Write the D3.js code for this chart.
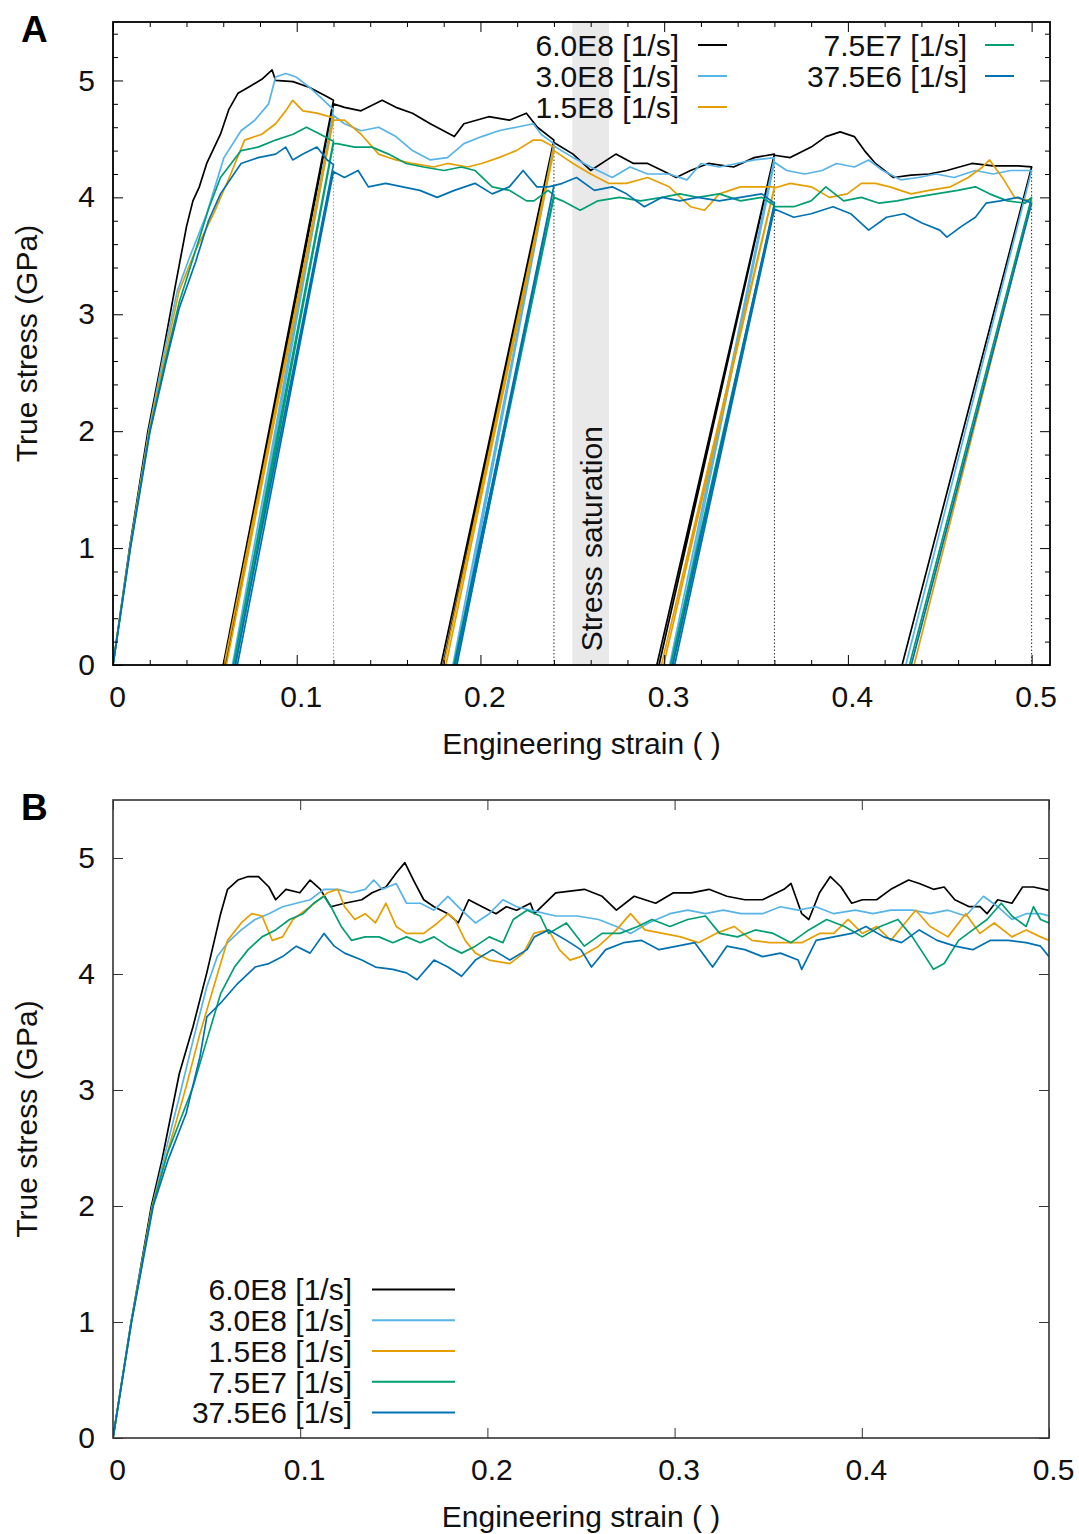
<!DOCTYPE html>
<html><head><meta charset="utf-8">
<script src="https://cdn.jsdelivr.net/npm/d3@7"></script>
<style>body{margin:0;background:#fff} svg{display:block}</style>
</head><body>
<svg id="c" width="1079" height="1534"></svg>
<script>
// ---------- data ----------
const seriesNames = ["6.0E8 [1/s]","3.0E8 [1/s]","1.5E8 [1/s]","7.5E7 [1/s]","37.5E6 [1/s]"];
const seriesColors = ["#000000","#56b4e9","#e69f00","#009e73","#0072b2"];
const xTickValues = [0,0.1,0.2,0.3,0.4,0.5];
const xTickLabels = ["0","0.1","0.2","0.3","0.4","0.5"];
const yTickValues = [0,1,2,3,4,5];
const yTickLabels = ["0","1","2","3","4","5"];
const unloadStrainsA = [0.12,0.24,0.36,0.5];
const saturationBand = [0.25,0.27];
const xTitle = "Engineering strain ( )";
const yTitle = "True stress (GPa)";
const bandLabel = "Stress saturation";

// Panel A: loading / unloading / reloading  [strain, stress]
const a600 = [[0,0],[0.009,1.0],[0.019,2.0],[0.027,2.65],[0.034,3.25],[0.040,3.75],[0.0435,3.97],[0.047,4.09],[0.051,4.29],[0.0585,4.54],[0.063,4.75],[0.068,4.89],[0.0735,4.94],[0.081,5.01],[0.0866,5.09],[0.0885,5.00],[0.098,4.99],[0.107,4.94],[0.1166,4.86],[0.12,4.83],
 [0.060,0],[0.0612,0],[0.12,4.80],[0.126,4.77],[0.135,4.74],[0.1465,4.83],[0.154,4.77],[0.163,4.72],[0.1727,4.63],[0.1858,4.52],[0.191,4.63],[0.2045,4.69],[0.2157,4.66],[0.225,4.72],[0.231,4.60],[0.24,4.49],
 [0.1785,0],[0.1797,0],[0.24,4.47],[0.2504,4.37],[0.260,4.23],[0.2737,4.37],[0.2833,4.29],[0.291,4.29],[0.2989,4.23],[0.3066,4.17],[0.3143,4.23],[0.324,4.29],[0.3378,4.26],[0.349,4.34],[0.36,4.37],
 [0.296,0],[0.2972,0],[0.36,4.36],[0.3686,4.34],[0.380,4.43],[0.388,4.52],[0.3958,4.56],[0.4035,4.52],[0.409,4.40],[0.415,4.29],[0.4248,4.17],[0.4344,4.19],[0.4442,4.20],[0.4539,4.23],[0.4675,4.29],[0.479,4.27],[0.4926,4.27],[0.5,4.26],
 [0.4295,0]];
const a300 = [[0,0],[0.0092,1.0],[0.0195,2.0],[0.0275,2.65],[0.035,3.2],[0.042,3.5],[0.051,3.86],[0.0604,4.34],[0.0697,4.57],[0.0772,4.66],[0.0847,4.80],[0.0885,5.03],[0.094,5.06],[0.0996,5.03],[0.107,4.94],[0.1127,4.86],[0.12,4.75],
 [0.065,0],[0.0662,0],[0.12,4.70],[0.126,4.63],[0.135,4.57],[0.1446,4.60],[0.154,4.52],[0.163,4.40],[0.1727,4.32],[0.182,4.34],[0.191,4.46],[0.2007,4.52],[0.210,4.57],[0.2195,4.60],[0.2288,4.63],[0.233,4.54],[0.24,4.46],
 [0.185,0],[0.1862,0],[0.24,4.44],[0.2504,4.34],[0.260,4.26],[0.2717,4.17],[0.2814,4.26],[0.291,4.20],[0.3027,4.20],[0.3124,4.15],[0.320,4.29],[0.330,4.26],[0.3395,4.29],[0.349,4.32],[0.36,4.34],
 [0.303,0],[0.3042,0],[0.36,4.30],[0.3667,4.23],[0.3764,4.20],[0.386,4.23],[0.3938,4.29],[0.4035,4.26],[0.4113,4.32],[0.419,4.23],[0.4287,4.15],[0.4384,4.17],[0.448,4.20],[0.4577,4.17],[0.4694,4.23],[0.479,4.20],[0.4887,4.23],[0.5,4.23],
 [0.4315,0]];
const a150 = [[0,0],[0.0093,1.0],[0.0197,2.0],[0.028,2.62],[0.036,3.2],[0.045,3.55],[0.0548,3.86],[0.0641,4.20],[0.0716,4.49],[0.081,4.54],[0.0885,4.63],[0.094,4.74],[0.0978,4.83],[0.1034,4.74],[0.111,4.72],[0.12,4.68],
 [0.0605,0],[0.0617,0],[0.12,4.66],[0.126,4.66],[0.135,4.54],[0.1446,4.37],[0.154,4.32],[0.163,4.29],[0.1746,4.26],[0.182,4.29],[0.193,4.26],[0.2007,4.29],[0.210,4.34],[0.2195,4.40],[0.2288,4.49],[0.233,4.49],[0.24,4.43],
 [0.180,0],[0.1812,0],[0.24,4.40],[0.2504,4.29],[0.260,4.20],[0.2697,4.12],[0.2795,4.12],[0.291,4.17],[0.3027,4.09],[0.3143,3.92],[0.322,3.89],[0.330,4.03],[0.3415,4.09],[0.349,4.09],[0.36,4.09],
 [0.2985,0],[0.2997,0],[0.36,4.08],[0.3686,4.12],[0.380,4.09],[0.390,4.00],[0.3996,4.03],[0.4073,4.12],[0.415,4.12],[0.4228,4.09],[0.4344,4.03],[0.4442,4.06],[0.4558,4.09],[0.4655,4.17],[0.4733,4.26],[0.4771,4.32],[0.4849,4.15],[0.4907,4.00],[0.5,3.97],
 [0.436,0]];
const a75 = [[0,0],[0.0094,1.0],[0.020,2.0],[0.0285,2.6],[0.036,3.1],[0.045,3.55],[0.052,3.9],[0.0585,4.17],[0.0697,4.40],[0.079,4.43],[0.0885,4.49],[0.098,4.54],[0.1053,4.60],[0.1128,4.54],[0.12,4.48],
 [0.0655,0],[0.0667,0],[0.12,4.46],[0.122,4.46],[0.1315,4.43],[0.1409,4.43],[0.150,4.37],[0.1596,4.29],[0.169,4.26],[0.1802,4.23],[0.1895,4.26],[0.197,4.23],[0.2064,4.09],[0.2157,4.06],[0.2251,3.97],[0.2291,3.97],[0.2368,4.06],[0.24,4.02],
 [0.1855,0],[0.1867,0],[0.24,4.00],[0.2446,3.97],[0.2543,3.89],[0.264,3.97],[0.2756,4.00],[0.2872,3.97],[0.2989,4.00],[0.3085,4.03],[0.3183,4.00],[0.330,4.03],[0.3415,3.97],[0.3531,4.00],[0.36,3.93],
 [0.3035,0],[0.3047,0],[0.36,3.92],[0.3705,3.92],[0.380,3.97],[0.388,4.09],[0.3977,3.97],[0.4073,4.00],[0.417,3.95],[0.4267,3.97],[0.4364,4.00],[0.448,4.03],[0.4597,4.06],[0.4694,4.09],[0.4771,4.03],[0.4868,3.97],[0.4965,3.95],[0.5,4.00],
 [0.4335,0]];
const a375 = [[0,0],[0.0095,1.0],[0.0202,2.0],[0.029,2.6],[0.036,3.05],[0.045,3.45],[0.052,3.8],[0.0585,4.03],[0.0697,4.29],[0.079,4.34],[0.0885,4.37],[0.094,4.43],[0.0978,4.32],[0.1034,4.37],[0.111,4.43],[0.1166,4.32],[0.12,4.28],
 [0.0665,0],[0.0677,0],[0.12,4.22],[0.126,4.17],[0.1334,4.23],[0.139,4.09],[0.1484,4.12],[0.1577,4.09],[0.167,4.06],[0.1764,4.00],[0.1858,4.06],[0.197,4.12],[0.2064,4.03],[0.2157,4.09],[0.2232,4.23],[0.2307,4.09],[0.2368,4.09],[0.24,4.10],
 [0.186,0],[0.1872,0],[0.24,4.10],[0.2446,4.12],[0.2523,4.17],[0.262,4.06],[0.2717,4.09],[0.2795,4.03],[0.2892,3.92],[0.2989,4.00],[0.3085,3.97],[0.3183,4.00],[0.330,3.97],[0.3415,4.00],[0.3531,4.03],[0.36,3.95],
 [0.3045,0],[0.3057,0],[0.36,3.90],[0.3705,3.83],[0.380,3.86],[0.3919,3.92],[0.4015,3.86],[0.4113,3.72],[0.421,3.83],[0.4306,3.86],[0.4403,3.78],[0.450,3.72],[0.4539,3.66],[0.4616,3.75],[0.4694,3.83],[0.4752,3.95],[0.483,3.97],[0.4926,4.00],[0.5,3.95],
 [0.4345,0]];

// Panel B: monotonic loading
const b600 = [[0,0],[0.0097,1.0],[0.0205,2.0],[0.0262,2.40],[0.0354,3.14],[0.0428,3.55],[0.0501,4.01],[0.0575,4.52],[0.0612,4.73],[0.0667,4.81],[0.0722,4.84],[0.0777,4.84],[0.0833,4.75],[0.0869,4.64],[0.0924,4.73],[0.0998,4.70],[0.1053,4.81],[0.1108,4.73],[0.1164,4.58],[0.1237,4.61],[0.1329,4.64],[0.1384,4.70],[0.1458,4.75],[0.1513,4.87],[0.1559,4.96],[0.1605,4.81],[0.166,4.64],[0.1715,4.58],[0.1789,4.52],[0.1844,4.44],[0.19,4.64],[0.1972,4.58],[0.2046,4.52],[0.2101,4.58],[0.2156,4.55],[0.223,4.61],[0.2251,4.52],[0.2365,4.70],[0.2518,4.73],[0.2613,4.67],[0.2689,4.55],[0.2784,4.67],[0.2899,4.61],[0.2994,4.70],[0.3089,4.70],[0.3184,4.73],[0.3279,4.67],[0.3375,4.64],[0.347,4.64],[0.3584,4.73],[0.3622,4.78],[0.3679,4.52],[0.3717,4.47],[0.3774,4.70],[0.3832,4.84],[0.3889,4.75],[0.3946,4.61],[0.4003,4.64],[0.4079,4.64],[0.4155,4.73],[0.425,4.81],[0.4307,4.78],[0.4383,4.73],[0.444,4.75],[0.4497,4.64],[0.4574,4.58],[0.4631,4.58],[0.4669,4.52],[0.4726,4.64],[0.4802,4.61],[0.4859,4.75],[0.4917,4.75],[0.5,4.72]];
const b300 = [[0,0],[0.0097,1.0],[0.021,2.0],[0.027,2.4],[0.0354,2.94],[0.0428,3.43],[0.0501,3.89],[0.0557,4.15],[0.0612,4.27],[0.0685,4.38],[0.0759,4.47],[0.0833,4.52],[0.0906,4.58],[0.0979,4.61],[0.1053,4.64],[0.1127,4.73],[0.12,4.73],[0.1274,4.70],[0.1347,4.73],[0.1393,4.81],[0.1439,4.73],[0.1513,4.78],[0.1568,4.61],[0.1642,4.61],[0.1715,4.55],[0.1789,4.67],[0.1862,4.55],[0.1936,4.44],[0.201,4.52],[0.2083,4.64],[0.2157,4.58],[0.223,4.55],[0.2365,4.50],[0.248,4.50],[0.2594,4.47],[0.2689,4.41],[0.2765,4.35],[0.286,4.44],[0.2975,4.52],[0.307,4.55],[0.3165,4.52],[0.326,4.55],[0.3355,4.52],[0.347,4.52],[0.3565,4.58],[0.366,4.55],[0.3755,4.58],[0.385,4.52],[0.3965,4.55],[0.406,4.52],[0.4155,4.55],[0.427,4.55],[0.4365,4.52],[0.446,4.55],[0.4555,4.50],[0.465,4.67],[0.4726,4.58],[0.4802,4.47],[0.4878,4.52],[0.4955,4.52],[0.5,4.50]];
const b150 = [[0,0],[0.0098,1.0],[0.021,2.0],[0.028,2.4],[0.0391,3.03],[0.0465,3.49],[0.0538,3.89],[0.0612,4.29],[0.0685,4.44],[0.0741,4.52],[0.0796,4.50],[0.0851,4.29],[0.0906,4.32],[0.0961,4.47],[0.1053,4.58],[0.1145,4.70],[0.12,4.73],[0.1237,4.58],[0.1292,4.47],[0.1347,4.52],[0.1402,4.44],[0.1458,4.61],[0.1513,4.41],[0.1568,4.35],[0.166,4.35],[0.1734,4.44],[0.1789,4.52],[0.1826,4.47],[0.1881,4.29],[0.1936,4.18],[0.201,4.12],[0.212,4.09],[0.2193,4.18],[0.2248,4.35],[0.2327,4.38],[0.2384,4.21],[0.2441,4.12],[0.2499,4.15],[0.2594,4.24],[0.2689,4.38],[0.2765,4.52],[0.2841,4.38],[0.2937,4.35],[0.3032,4.32],[0.3127,4.27],[0.3222,4.35],[0.3318,4.41],[0.3413,4.29],[0.3508,4.27],[0.3603,4.27],[0.3679,4.27],[0.3774,4.35],[0.385,4.35],[0.3927,4.47],[0.4003,4.35],[0.4079,4.41],[0.4155,4.29],[0.4231,4.44],[0.4288,4.55],[0.4365,4.41],[0.446,4.32],[0.4555,4.52],[0.4631,4.35],[0.4707,4.44],[0.4802,4.32],[0.4878,4.38],[0.4955,4.32],[0.5,4.29]];
const b75 = [[0,0],[0.0098,1.0],[0.0212,2.0],[0.029,2.45],[0.0428,3.03],[0.0501,3.43],[0.0575,3.83],[0.0649,4.06],[0.0722,4.21],[0.0796,4.32],[0.0869,4.38],[0.0943,4.47],[0.1016,4.52],[0.1072,4.61],[0.1127,4.67],[0.1164,4.58],[0.1219,4.41],[0.1274,4.29],[0.1347,4.32],[0.1421,4.32],[0.1495,4.27],[0.1568,4.32],[0.1642,4.27],[0.1715,4.32],[0.1789,4.24],[0.1862,4.18],[0.1936,4.24],[0.201,4.32],[0.2083,4.27],[0.2138,4.47],[0.2212,4.55],[0.2282,4.50],[0.2327,4.35],[0.2422,4.44],[0.2518,4.24],[0.2613,4.35],[0.2708,4.35],[0.2803,4.41],[0.2879,4.47],[0.2975,4.41],[0.307,4.47],[0.3165,4.50],[0.3241,4.35],[0.3336,4.32],[0.3432,4.38],[0.3527,4.35],[0.3622,4.27],[0.3717,4.38],[0.3812,4.47],[0.3908,4.41],[0.4003,4.32],[0.4098,4.41],[0.4193,4.47],[0.427,4.32],[0.4327,4.18],[0.4383,4.04],[0.444,4.09],[0.4517,4.29],[0.4593,4.38],[0.4669,4.47],[0.4745,4.61],[0.4802,4.50],[0.4878,4.41],[0.4917,4.58],[0.4955,4.47],[0.5,4.44]];
const b375 = [[0,0],[0.0099,1.0],[0.0215,2.0],[0.0295,2.4],[0.0391,2.80],[0.0465,3.29],[0.0501,3.63],[0.0575,3.75],[0.0667,3.92],[0.0759,4.06],[0.0833,4.09],[0.0906,4.15],[0.0979,4.24],[0.1053,4.18],[0.1127,4.35],[0.1182,4.24],[0.1237,4.18],[0.1329,4.12],[0.1402,4.06],[0.1495,4.04],[0.1568,4.01],[0.1624,3.95],[0.1715,4.12],[0.1789,4.06],[0.1862,3.98],[0.1936,4.12],[0.2028,4.21],[0.212,4.12],[0.2212,4.21],[0.2251,4.32],[0.2327,4.38],[0.2422,4.29],[0.2499,4.21],[0.2556,4.06],[0.2632,4.21],[0.2727,4.27],[0.2822,4.29],[0.2917,4.21],[0.3013,4.24],[0.3108,4.27],[0.3203,4.06],[0.3279,4.24],[0.3375,4.21],[0.347,4.15],[0.3565,4.18],[0.366,4.12],[0.3679,4.04],[0.3756,4.29],[0.385,4.32],[0.3946,4.35],[0.4022,4.41],[0.4117,4.32],[0.4212,4.27],[0.4307,4.38],[0.4402,4.29],[0.4498,4.24],[0.4593,4.21],[0.4688,4.29],[0.4783,4.29],[0.4878,4.27],[0.4955,4.24],[0.5,4.15]];

const seriesA = [a600,a300,a150,a75,a375];
const seriesB = [b600,b300,b150,b75,b375];

// ---------- drawing ----------
const FONT = "'Liberation Sans', Arial, Helvetica, sans-serif";
const FS = 30;
const svg = d3.select("#c");

function panel(opt){
  const g = svg.append("g");
  const x = d3.scaleLinear().domain(opt.xDomain).range([opt.left, opt.right]);
  const y = d3.scaleLinear().domain([0,5.5]).range([opt.bottom, opt.top]);
  const clipId = "clip" + opt.id;
  svg.append("clipPath").attr("id", clipId).append("rect")
    .attr("x", opt.left).attr("y", opt.top).attr("width", opt.right-opt.left).attr("height", opt.bottom-opt.top);

  const plot = g.append("g").attr("clip-path", `url(#${clipId})`);

  if (opt.band){
    plot.append("rect").attr("x", x(opt.band[0])).attr("width", x(opt.band[1])-x(opt.band[0]))
      .attr("y", y(5.5)).attr("height", y(0)-y(5.5)).attr("fill", "#e9e9e9");
    g.append("text").attr("transform", `translate(${(x(opt.band[0])+x(opt.band[1]))/2+11},${y(1.08)}) rotate(-90)`)
      .attr("text-anchor","middle").attr("font-family", FONT).attr("font-size", FS).attr("fill","#111").text(bandLabel);
  }
  if (opt.unloads){
    opt.unloads.forEach((u,i) => {
      const tops = opt.series.map(s => d3.max(s.filter(p => Math.abs(p[0]-u) < 1e-9), p => p[1]) || 0);
      plot.append("line").attr("x1", x(u)).attr("x2", x(u)).attr("y1", y(0)).attr("y2", y(d3.max(tops)))
        .attr("stroke", i === 0 ? "#9a9a9a" : "#333").attr("stroke-width", 1).attr("stroke-dasharray", "1.5,2");
    });
  }
  const line = d3.line().x(d => x(d[0])).y(d => y(d[1]));
  opt.series.forEach((s,i) => {
    plot.append("path").datum(s).attr("d", line).attr("fill","none")
      .attr("stroke", seriesColors[i]).attr("stroke-width", 1.7).attr("stroke-linejoin","round");
  });

  // ticks (inward, mirrored)
  const axes = g.append("g").attr("font-family", FONT);
  const addAxis = (axisFn, scale, transform, values, size, labels) => {
    const a = axisFn(scale).tickValues(values).tickSize(-size).tickPadding(labels ? opt.pad : 0)
      .tickFormat(labels ? ((d,i) => labels[i]) : () => "");
    const sel = axes.append("g").attr("transform", transform).call(a);
    sel.select(".domain").remove();
    sel.selectAll("line").attr("stroke", opt.frameColor).attr("stroke-width", 1);
    sel.selectAll("text").attr("font-size", FS).attr("fill", "#111").attr("font-family", FONT);
    return sel;
  };
  addAxis(d3.axisBottom, x, `translate(0,${opt.bottom})`, xTickValues, 10, xTickLabels)
    .selectAll("text").attr("dy", "0.71em").attr("y", 21).attr("x", 4);
  addAxis(d3.axisTop, x, `translate(0,${opt.top})`, xTickValues, 10, null);
  addAxis(d3.axisLeft, y, `translate(${opt.left},0)`, yTickValues, 10, yTickLabels).selectAll("text").attr("x", -18);
  addAxis(d3.axisRight, y, `translate(${opt.right},0)`, yTickValues, 10, null);
  if (opt.minor){
    const xm = d3.range(0, 0.51, 0.02).filter(v => Math.abs(v*10 - Math.round(v*10)) > 1e-6);
    const ym = d3.range(0, 5.5, 0.2).filter(v => Math.abs(v - Math.round(v)) > 1e-6);
    addAxis(d3.axisBottom, x, `translate(0,${opt.bottom})`, xm, 5, null);
    addAxis(d3.axisTop, x, `translate(0,${opt.top})`, xm, 5, null);
    addAxis(d3.axisLeft, y, `translate(${opt.left},0)`, ym, 5, null);
    addAxis(d3.axisRight, y, `translate(${opt.right},0)`, ym, 5, null);
  }
  // frame
  g.append("rect").attr("x", opt.left).attr("y", opt.top).attr("width", opt.right-opt.left).attr("height", opt.bottom-opt.top)
    .attr("fill","none").attr("stroke", opt.frameColor).attr("stroke-width", opt.frameWidth);

  // titles
  g.append("text").attr("x", (opt.left+opt.right)/2).attr("y", opt.bottom + 89).attr("text-anchor","middle")
    .attr("font-family", FONT).attr("font-size", FS).attr("fill","#111").text(xTitle);
  g.append("text").attr("transform", `translate(37,${(opt.top+opt.bottom)/2}) rotate(-90)`).attr("text-anchor","middle")
    .attr("font-family", FONT).attr("font-size", FS).attr("fill","#111").text(yTitle);
  g.append("text").attr("x", 21).attr("y", opt.top + 20).attr("font-family", FONT).attr("font-weight","bold")
    .attr("font-size", 37).attr("fill","#000").text(opt.id);

  // legend
  const lg = g.append("g").attr("font-family", FONT).attr("font-size", FS).attr("fill","#111");
  opt.legend.forEach((L,i) => {
    lg.append("text").attr("x", L.textRight).attr("y", L.cy + 10.8).attr("text-anchor","end").text(seriesNames[i]);
    lg.append("line").attr("x1", L.l1).attr("x2", L.l2).attr("y1", L.cy).attr("y2", L.cy)
      .attr("stroke", seriesColors[i]).attr("stroke-width", 2);
  });
}

panel({id:"A", xDomain:[0,0.51], left:113, right:1050, top:22, bottom:665, pad:19,
  series: seriesA, unloads: unloadStrainsA, band: saturationBand, minor: true,
  frameColor:"#000", frameWidth:1.8,
  legend: [
    {textRight:679, l1:698, l2:727, cy:45},
    {textRight:679, l1:698, l2:727, cy:76},
    {textRight:679, l1:698, l2:727, cy:107},
    {textRight:967, l1:985, l2:1014, cy:45},
    {textRight:967, l1:985, l2:1014, cy:76}
  ]});

panel({id:"B", xDomain:[0,0.5], left:113, right:1049, top:800, bottom:1438, pad:19,
  series: seriesB, minor: false,
  frameColor:"#333", frameWidth:1.6,
  legend: [0,1,2,3,4].map(i => ({textRight:352, l1:372, l2:455, cy:1289.5 + i*30.75}))
});
</script>
</body></html>
